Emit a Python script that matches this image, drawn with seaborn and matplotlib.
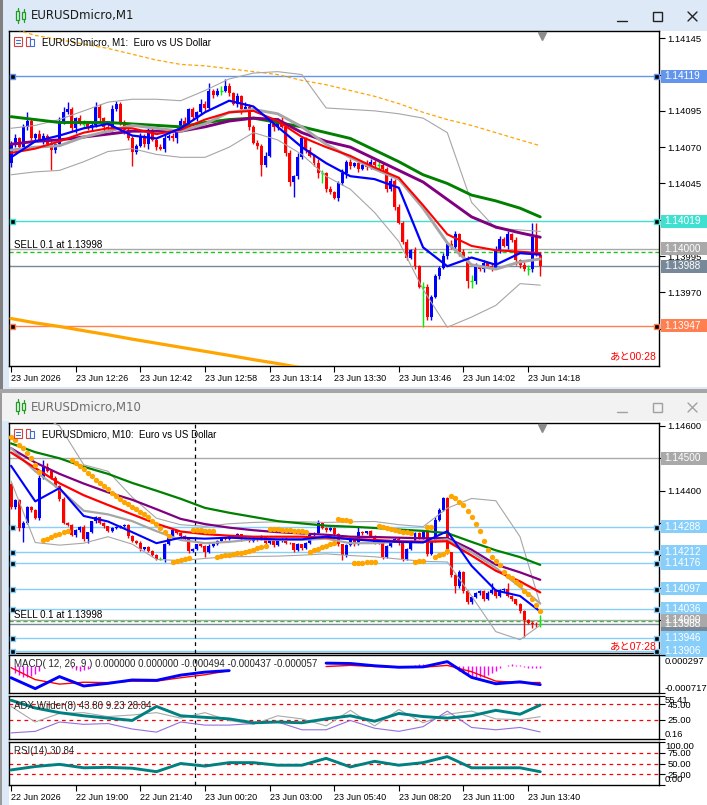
import numpy as np
import matplotlib
matplotlib.use("Agg")
import matplotlib.pyplot as plt
import matplotlib.transforms as mtrans
from matplotlib.patches import Rectangle
from matplotlib.lines import Line2D
import seaborn as sns

sns.set_theme(style="white")
plt.rcParams["font.family"] = ["Liberation Sans", "Noto Sans CJK JP", "DejaVu Sans"]

BASE = 1.13900  # all *_pt values are points (0.00001) above this price

# ---------------- M1 chart data ----------------
m1_first_open = 159
m1_close = [172, 176, 170, 184, 188, 176, 179, 175, 178, 172,
            168, 172, 188, 194, 196, 183, 190, 186, 186, 183,
            185, 198, 190, 184, 183, 196, 200, 187, 182, 176,
            167, 171, 177, 172, 182, 175, 170, 169, 176, 178,
            176, 182, 188, 185, 196, 191, 194, 200, 197, 209,
            206, 209, 209, 212, 207, 200, 205, 196, 198, 184,
            173, 171, 158, 164, 186, 184, 188, 184, 166, 146,
            150, 163, 176, 168, 164, 159, 152, 152, 141, 139,
            135, 145, 152, 160, 157, 159, 155, 158, 156, 160,
            158, 158, 155, 141, 147, 129, 118, 105, 94, 99,
            88, 74, 74, 53, 67, 81, 87, 95, 103, 101,
            110, 98, 94, 78, 78, 88, 86, 90, 88, 87,
            99, 107, 102, 110, 106, 92, 89, 86, 86, 108,
            96, 88]
m1_up = [2, 3, 1, 2, 6, 2, 1, 3, 2, 1,
         2, 1, 3, 4, 5, 2, 1, 2, 3, 1,
         2, 3, 2, 1, 2, 3, 2, 1, 2, 1,
         2, 1, 3, 2, 1, 2, 1, 2, 3, 1,
         2, 1, 2, 3, 1, 2, 1, 3, 2, 5,
         1, 2, 3, 5, 2, 1, 2, 1, 3, 2,
         1, 2, 1, 3, 2, 1, 2, 3, 1, 2,
         1, 3, 2, 1, 2, 1, 3, 2, 1, 2,
         1, 2, 3, 1, 2, 1, 2, 1, 3, 2,
         1, 3, 2, 1, 2, 1, 2, 1, 2, 1,
         2, 1, 3, 2, 1, 2, 1, 2, 1, 3,
         2, 1, 2, 1, 4, 2, 1, 2, 1, 2,
         3, 2, 1, 2, 1, 2, 1, 2, 3, 10,
         10, 2]
m1_dn = [3, 2, 1, 2, 2, 1, 2, 1, 3, 2,
         14, 2, 1, 2, 1, 2, 3, 1, 3, 1,
         2, 1, 2, 3, 1, 2, 1, 2, 3, 1,
         10, 2, 1, 2, 3, 1, 2, 1, 2, 1,
         2, 3, 1, 2, 1, 2, 3, 1, 2, 1,
         2, 1, 3, 1, 2, 1, 2, 3, 1, 2,
         1, 2, 8, 2, 1, 3, 2, 1, 2, 3,
         10, 2, 1, 2, 1, 2, 3, 7, 2, 1,
         1, 2, 1, 3, 2, 1, 2, 1, 2, 1,
         2, 3, 2, 2, 1, 2, 1, 2, 2, 1,
         2, 1, 28, 2, 2, 1, 2, 1, 2, 1,
         2, 3, 2, 5, 5, 2, 1, 2, 1, 2,
         1, 2, 1, 2, 1, 3, 2, 1, 4, 2,
         1, 7]

knot_bars = [0, 6, 12, 18, 24, 30, 36, 42, 48, 54, 60, 66,
             72, 78, 84, 90, 96, 102, 108, 114, 120, 126, 131]
m1_fast = [163, 174, 178, 183, 186, 178, 176, 183, 194, 202, 198, 184,
           170, 159, 150, 148, 142, 101, 88, 94, 89, 97, 96]
m1_mid = [166, 169, 174, 180, 183, 183, 179, 182, 189, 194, 195, 188,
          177, 170, 164, 156, 149, 130, 110, 102, 99, 98, 97]
m1_bb_mid = [168, 170, 171, 177, 181, 185, 183, 181, 186, 194, 196, 193,
             184, 172, 163, 155, 148, 128, 104, 89, 86, 91, 93]
m1_bb_up = [183, 185, 189, 195, 201, 203, 203, 202, 209, 217, 221, 222,
            220, 197, 196, 195, 193, 190, 180, 132, 114, 113, 112]
m1_bb_dn = [151, 153, 154, 160, 167, 169, 165, 163, 163, 170, 180, 175,
            165, 150, 141, 125, 105, 72, 46, 53, 61, 76, 75]
m1_slow = [172, 174, 175, 177, 179, 181, 181, 181, 184, 188, 190, 189,
           180, 174, 170, 162, 154, 146, 134, 122, 115, 111, 108]
m1_slower = [191, 189, 187, 187, 187, 186, 185, 184, 187, 189, 190, 187,
             184, 180, 176, 168, 160, 151, 145, 137, 133, 128, 122]
m1_long_dash = [252, 247, 244, 241, 238, 234, 230, 227, 226, 224, 222, 220,
                216, 213, 209, 205, 200, 194, 189, 185, 180, 175, 171]
m1_long_thick = [52, 49, 46.5, 43.6, 40.8, 37.8, 35, 32.2, 29.4, 26.6, 23.7, 21,
                 18, 15, 12, 9, 6, 3, 0, -3, -6, -9, -12]

m1_levels = [1.14119, 1.14019, 1.14000, 1.13988, 1.13947]
m1_level_text = ["1.14119", "1.14019", "1.14000", "1.13988", "1.13947"]
sell_price = 1.13998
m1_yticks = [1.13945, 1.13970, 1.13995, 1.14020, 1.14045, 1.14070, 1.14095, 1.14120, 1.14145]
m1_ytick_text = ["1.13945", "1.13970", "1.13995", "", "1.14045", "1.14070", "1.14095", "", "1.14145"]
m1_time_ticks = [0, 16, 32, 48, 64, 80, 96, 112, 128]
m1_time_labels = ["23 Jun 2026", "23 Jun 12:26", "23 Jun 12:42", "23 Jun 12:58", "23 Jun 13:14",
                  "23 Jun 13:30", "23 Jun 13:46", "23 Jun 14:02", "23 Jun 14:18"]

# ---------------- M10 chart data ----------------
m10_first_open = 520
m10_close = [450, 470, 385, 400, 450, 440, 415, 540, 572, 562,
             540, 515, 475, 400, 395, 362, 378, 388, 352, 372,
             405, 418, 400, 390, 375, 385, 388, 392, 394, 360,
             345, 340, 320, 325, 315, 303, 290, 290, 337, 355,
             378, 370, 360, 352, 315, 320, 335, 330, 312, 330,
             335, 345, 355, 352, 360, 358, 365, 350, 355, 345,
             355, 350, 358, 340, 350, 332, 345, 352, 340, 338,
             318, 335, 322, 340, 362, 370, 400, 385, 378, 385,
             365, 335, 300, 332, 352, 335, 372, 368, 375, 360,
             340, 345, 295, 330, 345, 352, 338, 290, 320, 345,
             368, 355, 376, 305, 345, 410, 440, 478, 310, 240,
             205, 250, 190, 155, 173, 183, 190, 165, 185, 193,
             175, 192, 196, 175, 165, 150, 128, 101, 93, 90,
             88, 88]
m10_up = [4, 5, 3, 6, 4, 3, 5, 10, 23, 12,
          3, 4, 2, 5, 3, 2, 4, 3, 5, 2,
          3, 4, 2, 3, 2, 3, 4, 2, 3, 2,
          3, 2, 4, 2, 3, 2, 3, 4, 3, 2,
          3, 2, 3, 4, 2, 3, 2, 3, 2, 4,
          3, 2, 3, 2, 3, 2, 4, 2, 3, 2,
          3, 2, 4, 2, 3, 2, 3, 2, 4, 3,
          2, 3, 2, 3, 4, 3, 10, 3, 2, 3,
          4, 3, 2, 3, 4, 3, 17, 3, 2, 3,
          2, 3, 4, 3, 2, 3, 4, 2, 3, 2,
          4, 3, 2, 3, 4, 10, 6, 4, 3, 2,
          3, 4, 3, 2, 3, 4, 3, 2, 4, 21,
          3, 4, 3, 18, 3, 2, 3, 4, 3, 5,
          4, 28]
m10_dn = [6, 5, 8, 42, 4, 5, 3, 4, 3, 4,
          5, 3, 6, 4, 5, 3, 4, 5, 6, 14,
          3, 4, 3, 5, 4, 3, 4, 3, 4, 5,
          4, 3, 5, 4, 3, 4, 5, 3, 9, 4,
          3, 4, 5, 3, 6, 4, 3, 4, 16, 3,
          4, 3, 4, 3, 4, 3, 4, 5, 3, 4,
          3, 4, 3, 5, 4, 6, 3, 4, 3, 4,
          6, 3, 5, 3, 4, 3, 4, 3, 4, 3,
          5, 6, 15, 4, 3, 5, 3, 4, 3, 4,
          5, 3, 6, 4, 3, 4, 5, 8, 4, 3,
          4, 5, 3, 6, 4, 3, 4, 3, 4, 5,
          22, 4, 6, 5, 4, 3, 5, 4, 3, 4,
          5, 3, 4, 3, 5, 4, 6, 52, 5, 15,
          10, 8]
m10_fast = [577, 467, 508, 422, 405, 372, 338, 355, 352, 355, 352, 350,
            350, 358, 350, 345, 342, 340, 375, 268, 192, 175, 127]
m10_mid = [618, 570, 523, 486, 456, 427, 398, 374, 366, 361, 358, 358,
           358, 355, 352, 348, 344, 342, 344, 300, 253, 220, 186]
m10_bb_mid = [631, 560, 505, 438, 427, 406, 375, 348, 338, 342, 350, 348,
              348, 352, 338, 338, 343, 343, 350, 310, 262, 203, 152]
m10_bb_up = [760, 740, 700, 580, 560, 480, 415, 395, 390, 398, 402, 404,
             404, 402, 404, 405, 395, 389, 446, 476, 469, 358, 150]
m10_bb_dn = [530, 340, 332, 338, 358, 335, 288, 284, 291, 296, 297, 298,
             301, 305, 300, 296, 289, 282, 280, 175, 65, 40, 85]
m10_slow = [631, 587, 552, 522, 495, 472, 443, 413, 397, 386, 378, 372,
            368, 364, 358, 357, 355, 353, 354, 318, 272, 248, 225]
m10_slower = [646, 619, 600, 574, 552, 524, 500, 475, 447, 432, 419, 406,
              399, 392, 389, 385, 380, 376, 369, 342, 316, 295, 271]
m10_sar = [667, 657, 641, 631, 615, 600, 580, 559,
           348, 352, 357, 362, 367, 372, 376,
           595, 585, 576, 566, 556, 544, 533, 525, 515, 504, 494, 484, 474,
           466, 458, 450, 443, 435, 427, 418, 408, 397, 384, 374, 360,
           281, 284, 287, 290, 293,
           380, 379, 378, 377, 376, 375,
           296, 298, 300, 302, 304, 307, 309, 312, 315, 318, 322, 326, 330,
           383, 382, 381, 380, 379, 378, 377, 376, 375, 374,
           312, 316, 320, 325, 330, 335, 340,
           412, 411, 410, 408,
           276, 277, 278, 279, 280, 281,
           391, 389, 386, 383, 380, 377, 374, 371, 368,
           280, 282, 284,
           389, 387,
           296, 300, 306, 315,
           484, 476, 466, 456, 438, 418, 398, 375, 345, 318, 296, 283,
           271, 250, 238, 230, 218, 209, 190, 180, 165, 148, 128]

m10_levels_blue = [1.14288, 1.14212, 1.14176, 1.14097, 1.14036, 1.13946, 1.13906]
m10_levels_blue_text = ["1.14288", "1.14212", "1.14176", "1.14097", "1.14036", "1.13946", "1.13906"]
m10_level_gray = 1.14500
m10_level_price = 1.14000
m10_level_bid = 1.13988
m10_yticks = [1.14000, 1.14100, 1.14200, 1.14300, 1.14400, 1.14500, 1.14600]
m10_ytick_text = ["", "", "1.14200", "1.14300", "1.14400", "", "1.14600"]
m10_day_bar = 46
m10_time_ticks = [0, 16, 32, 48, 64, 80, 96, 112, 128]
m10_time_labels = ["22 Jun 2026", "22 Jun 19:00", "22 Jun 21:40", "23 Jun 00:20", "23 Jun 03:00",
                   "23 Jun 05:40", "23 Jun 08:20", "23 Jun 11:00", "23 Jun 13:40"]

# indicators (M10), read at knot_bars
nan = np.nan
macd_main = [-0.00031, -0.00060, -0.00028, -0.00053, -0.00046, -0.00037, -0.00038, -0.00024,
             -0.00016, -0.00012, nan, nan, nan, 0.00008, 0.00007, 0.00001, -0.00003, -0.00002,
             0.00012, -0.00030, -0.00047, -0.00042, -0.000494]
macd_signal = [-0.00004, -0.00036, -0.00048, -0.00043, -0.00044, -0.00040, -0.00040, -0.00031,
               -0.00023, -0.00012, nan, nan, nan, -0.00001, 0.00002, -0.00001, -0.00003, -0.00003,
               0.00002, -0.00015, -0.00040, -0.00044, -0.000437]
macd_hist_bars = [1, 2, 3, 4, 5, 6, 7, 15, 16, 17, 18, 19, 100, 101, 102, 103,
                  110, 111, 112, 113, 114, 115, 116, 117, 118, 119, 120, 121,
                  123, 124, 125, 126, 127, 128, 129, 130, 131]
macd_hist = [-0.00018, -0.00024, -0.00028, -0.00030, -0.00026, -0.00020, -0.00012,
             -0.00006, -0.00010, -0.00013, -0.00011, -0.00007,
             0.00004, 0.00005, 0.00005, 0.00003,
             -0.00005, -0.00012, -0.00018, -0.00024, -0.00028, -0.00030, -0.00030, -0.00028,
             -0.00024, -0.00018, -0.00012, -0.00006,
             0.00004, 0.00005, 0.00004, 0.00002, -0.00002, -0.00004, -0.00005, -0.00006, -0.000057]
macd_range = (-0.000717, 0.000297)
adx_main = [50, 40, 34, 30, 27, 24, 42, 30, 28, 26, 21, 22, 21, 26, 30, 23, 33, 29, 27, 30, 37, 32, 43.8]
adx_minus = [42, 22, 33, 34, 29, 31, 34, 27, 34, 24, 19, 30, 26, 17, 37, 17, 38, 21, 32, 36, 26, 25, 28.84]
adx_plus = [8, 10, 22, 19, 20, 13, 9, 22, 18, 18, 20, 22, 12, 12, 24, 14, 10, 16, 36, 15, 12, 15, 9.23]
adx_range = (0.16, 55.41)
adx_levels = [25, 45]
rsi_vals = [35, 43, 48, 40, 41, 39, 31, 50, 44, 52, 52, 46, 46, 62, 42, 55, 46, 52, 66, 40, 40, 40, 30.84]
rsi_levels = [25, 50, 75]

# ---------------- figure ----------------
W, H = 707, 805
fig = plt.figure(figsize=(W / 100, H / 100), dpi=100)
fig.patch.set_facecolor("#dde9f6")
XLIM = (-0.5, 160.4)


def fig_rect(x0, y0, x1, y1, fc, ec="none", lw=0.8, z=-5):
    fig.add_artist(Rectangle((x0 / W, 1 - y1 / H), (x1 - x0) / W, (y1 - y0) / H,
                             transform=fig.transFigure, fc=fc, ec=ec, lw=lw, zorder=z))


def fig_line(xs, ys, color, lw=1.0, z=5):
    fig.add_artist(Line2D([x / W for x in xs], [1 - y / H for y in ys],
                          transform=fig.transFigure, color=color, lw=lw, zorder=z))


def fig_axes(x0, y0, x1, y1):
    return fig.add_axes([x0 / W, 1 - y1 / H, (x1 - x0) / W, (y1 - y0) / H])


# window chrome
fig_rect(0, 0, 3, 390, "#808080")
fig_rect(9, 31, 707, 387, "white")
fig_rect(0, 389, 707, 393, "#a5a5a5")
fig_rect(2, 393, 707, 421, "#f2f2f2")
fig_rect(0, 393, 2, 805, "#9a9a9a")
fig_rect(9, 421, 707, 805, "white")


def title_bar(y, text, tcol, bcol):
    fig_rect(16, y - 5, 19, y + 4, "none", ec="#1f9d1f", lw=0.9, z=5)
    fig_rect(22, y - 4, 25, y + 3, "none", ec="#1f9d1f", lw=0.9, z=5)
    fig_line([17.5, 17.5], [y - 8, y - 5], "#1f9d1f", 0.9)
    fig_line([17.5, 17.5], [y + 4, y + 7], "#1f9d1f", 0.9)
    fig_line([23.5, 23.5], [y - 7, y - 4], "#1f9d1f", 0.9)
    fig_line([23.5, 23.5], [y + 3, y + 6], "#1f9d1f", 0.9)
    fig.text(31 / W, 1 - y / H, text, fontsize=8.5, family="DejaVu Sans", va="center", color=tcol)
    fig_line([617, 627], [y + 5, y + 5], bcol, 1.0)
    fig_rect(653, y - 4, 662, y + 5, "none", ec=bcol, lw=1.0, z=5)
    fig_line([688, 697], [y - 4, y + 5], bcol, 1.0)
    fig_line([688, 697], [y + 5, y - 4], bcol, 1.0)


title_bar(16, "EURUSDmicro,M1", "#1a1a1a", "#222222")
title_bar(407, "EURUSDmicro,M10", "#6e6e6e", "#a0a0a0")


def pt(a):
    return BASE + np.asarray(a, dtype=float) * 1e-5


def line(ax, xs, vals, color, lw, dash=None, z=4):
    y = np.asarray(vals, dtype=float)
    xs = np.asarray(xs)
    ok = ~np.isnan(y)
    breaks = np.where(np.diff(ok.astype(int)) != 0)[0] + 1
    kw = {"linestyle": (0, dash)} if dash else {}
    for seg in np.split(np.arange(len(y)), breaks):
        if ok[seg[0]] and len(seg) > 1:
            sns.lineplot(x=xs[seg], y=y[seg], ax=ax, color=color, lw=lw, estimator=None,
                         sort=False, legend=False, zorder=z, **kw)


def candles(ax, first_open, close, up, dn):
    c = pt(close)
    o = np.r_[pt(first_open), c[:-1]]
    hi = np.maximum(o, c) + np.asarray(up) * 1e-5
    lo = np.minimum(o, c) - np.asarray(dn) * 1e-5
    x = np.arange(len(c))
    col = np.where(c > o, "#0000ff", np.where(c < o, "#ff0000", "#00ee00"))
    ax.vlines(x, lo, hi, colors=col, lw=1.0, zorder=3)
    body = c != o
    ax.bar(x[body], np.abs(c - o)[body], bottom=np.minimum(o, c)[body], width=0.74,
           color=col[body], lw=0, zorder=3)
    ax.hlines(c[~body], x[~body] - 0.37, x[~body] + 0.37, colors="#00ee00", lw=1.0, zorder=3)


def frame(ax, ylim, yticks, ylabels):
    ax.set_facecolor("white")
    ax.set_xlim(*XLIM)
    ax.set_ylim(*ylim)
    for s in ax.spines.values():
        s.set_color("black")
        s.set_linewidth(1.0)
    ax.yaxis.tick_right()
    ax.set_yticks(yticks)
    ax.set_yticklabels(ylabels)
    ax.tick_params(axis="y", right=True, left=False, direction="out", length=4, width=0.8,
                   color="black", labelsize=6.8, pad=2, labelcolor="black")
    ax.set_xticks([])
    ax.set_xlabel("")
    ax.set_ylabel("")


def time_axis(ax, ticks, labels):
    ax.set_xticks(ticks)
    ax.set_xticklabels(labels, ha="left")
    ax.tick_params(axis="x", bottom=True, direction="out", length=4, width=0.8,
                   color="black", labelsize=6.5, pad=2, labelcolor="black")


def level(ax, price, color, ends=False, dash=None, z=2):
    kw = {"linestyle": (0, dash)} if dash else {}
    ax.axhline(price, color=color, lw=1.0, zorder=z, **kw)
    if ends:
        tr = mtrans.blended_transform_factory(ax.transAxes, ax.transData)
        ax.plot([0.005, 0.995], [price, price], transform=tr, ls="none", marker="s", ms=3.6,
                mfc="black", mec=color, mew=1.0, clip_on=False, zorder=6)


def tag(ax, price, text, fc, h_px):
    tr = mtrans.blended_transform_factory(ax.transAxes, ax.transData)
    y0, y1 = ax.get_ylim()
    dpp = (y1 - y0) / h_px
    ax.add_patch(Rectangle((1.0031, price - 6.5 * dpp), 46 / 650, 13 * dpp, transform=tr,
                           fc=fc, ec="none", clip_on=False, zorder=8))
    ax.text(1.0031 + 3 / 650, price, text, transform=tr, color="white", fontsize=7.2,
            va="center", ha="left", clip_on=False, zorder=9)


def chart_icons(y):
    # two small toolbar icons left of the chart caption (figure pixels)
    fig_rect(14, y + 6, 22, y + 15, "white", ec="#d9413b", lw=0.8, z=10)
    fig_line([16, 20], [y + 9, y + 9], "#3b6fd9", 0.8, z=11)
    fig_line([16, 20], [y + 12, y + 12], "#3b6fd9", 0.8, z=11)
    fig_rect(26, y + 6, 30, y + 15, "white", ec="#d9413b", lw=0.8, z=10)
    fig_rect(30, y + 8, 34, y + 15, "white", ec="#3b6fd9", lw=0.8, z=10)


# ================= M1 main chart =================
ax1 = fig_axes(9, 31, 659, 366)
ylim1 = (float(pt(19.3)), float(pt(250.0)))
ax1.set_xlim(*XLIM)
ax1.set_ylim(*ylim1)
m1_colors = ["#6495ed", "#40e0d0", "#a9a9a9", "#778899", "#ff7f50"]
m1_ends = [True, True, False, False, True]
for p, c, e in zip(m1_levels, m1_colors, m1_ends):
    level(ax1, p, c, ends=e)
level(ax1, sell_price, "#22c322", dash=(3, 2), z=2.1)
candles(ax1, m1_first_open, m1_close, m1_up, m1_dn)
line(ax1, knot_bars, pt(m1_long_thick), "#ffa500", 2.3)
line(ax1, knot_bars, pt(m1_long_dash), "#ffa500", 0.9, dash=(3, 2))
line(ax1, knot_bars, pt(m1_bb_up), "#a6a6a6", 0.8)
line(ax1, knot_bars, pt(m1_bb_dn), "#a6a6a6", 0.8)
line(ax1, knot_bars, pt(m1_slower), "#008000", 2.1)
line(ax1, knot_bars, pt(m1_slow), "#800080", 2.1)
line(ax1, knot_bars, pt(m1_bb_mid), "#a6a6a6", 2.1)
line(ax1, knot_bars, pt(m1_mid), "#ff0000", 1.5)
line(ax1, knot_bars, pt(m1_fast), "#0000ff", 1.6)
frame(ax1, ylim1, m1_yticks, m1_ytick_text)
time_axis(ax1, m1_time_ticks, m1_time_labels)
for p, c, t in zip(m1_levels, m1_colors, m1_level_text):
    tag(ax1, p, t, c, 335)
ax1.text(33 / 650, 0.967, "EURUSDmicro, M1:  Euro vs US Dollar", transform=ax1.transAxes,
         fontsize=7, va="center", ha="left", color="black", zorder=9)
ax1.text(5 / 650, float(pt(102.5)), "SELL 0.1 at 1.13998", fontsize=7, va="center", ha="left",
         color="black", zorder=9, transform=mtrans.blended_transform_factory(ax1.transAxes, ax1.transData))
ax1.text(0.997, 0.027, "あと00:28", transform=ax1.transAxes, fontsize=7.5, color="#ff0000",
         ha="right", va="center", zorder=9)
ax1.plot([131.4], [0.986], transform=mtrans.blended_transform_factory(ax1.transData, ax1.transAxes),
         marker="v", ms=5.5, color="#8c8c8c", clip_on=False, zorder=9)
chart_icons(31)

# ================= M10 main chart =================
ax2 = fig_axes(9, 423, 659, 653)
ylim2 = (float(pt(-1)), float(pt(709)))
ax2.set_xlim(*XLIM)
ax2.set_ylim(*ylim2)
level(ax2, m10_level_gray, "#a9a9a9")
for p in m10_levels_blue:
    level(ax2, p, "#87cefa", ends=True)
level(ax2, sell_price, "#22c322", dash=(3, 2), z=1.9)
level(ax2, m10_level_bid, "#778899")
level(ax2, m10_level_price, "#a9a9a9")
ax2.axvline(m10_day_bar - 0.4, color="black", lw=0.9, linestyle=(0, (3, 3)), zorder=2)
candles(ax2, m10_first_open, m10_close, m10_up, m10_dn)
line(ax2, knot_bars, pt(m10_bb_up), "#a6a6a6", 0.8)
line(ax2, knot_bars, pt(m10_bb_dn), "#a6a6a6", 0.8)
line(ax2, knot_bars, pt(m10_slower), "#008000", 1.6)
line(ax2, knot_bars, pt(m10_slow), "#800080", 1.6)
line(ax2, knot_bars, pt(m10_bb_mid), "#a6a6a6", 1.6)
line(ax2, knot_bars, pt(m10_mid), "#ff0000", 1.6)
line(ax2, knot_bars, pt(m10_fast), "#0000ff", 1.5)
sns.scatterplot(x=np.arange(len(m10_sar)), y=pt(m10_sar), ax=ax2, color="#ffa500", s=15,
                linewidth=0, zorder=6, legend=False)
frame(ax2, ylim2, m10_yticks, m10_ytick_text)
tag(ax2, m10_level_gray, "1.14500", "#a9a9a9", 230)
for p, t in zip(m10_levels_blue, m10_levels_blue_text):
    tag(ax2, p, t, "#87cefa", 230)
tag(ax2, m10_level_bid, "1.13988", "#778899", 230)
tag(ax2, m10_level_price, "1.14000", "#a9a9a9", 230)
ax2.text(33 / 650, 0.952, "EURUSDmicro, M10:  Euro vs US Dollar", transform=ax2.transAxes,
         fontsize=7, va="center", ha="left", color="black", zorder=9)
ax2.text(5 / 650, float(pt(116)), "SELL 0.1 at 1.13998", fontsize=7, va="center", ha="left",
         color="black", zorder=9, transform=mtrans.blended_transform_factory(ax2.transAxes, ax2.transData))
ax2.text(0.997, 0.027, "あと07:28", transform=ax2.transAxes, fontsize=7.5, color="#ff0000",
         ha="right", va="center", zorder=9)
ax2.plot([131.4], [0.98], transform=mtrans.blended_transform_factory(ax2.transData, ax2.transAxes),
         marker="v", ms=5.5, color="#8c8c8c", clip_on=False, zorder=9)
chart_icons(423)


def side_text(ax, yfrac, text):
    ax.text(1 + 6 / 650, yfrac, text, transform=ax.transAxes, fontsize=6.8, va="center",
            ha="left", color="black", clip_on=False)


# ================= MACD =================
ax3 = fig_axes(9, 655, 659, 693)
ax3.set_xlim(*XLIM)
ax3.set_ylim(*macd_range)
ax3.axvline(m10_day_bar - 0.4, color="black", lw=0.9, linestyle=(0, (3, 3)), zorder=2)
ax3.vlines(macd_hist_bars, 0, macd_hist, colors="#ff00ff", lw=1.0, zorder=3)
line(ax3, knot_bars, macd_signal, "#ff0000", 1.0)
line(ax3, knot_bars, macd_main, "#0000ff", 2.1, z=5)
frame(ax3, macd_range, list(macd_range), ["", ""])
side_text(ax3, 0.84, "0.000297")
side_text(ax3, 0.13, "-0.000717")
ax3.text(5 / 650, 0.76, "MACD( 12, 26, 9 ) 0.000000 0.000000 -0.000494 -0.000437 -0.000057",
         transform=ax3.transAxes, fontsize=7, va="center", ha="left", zorder=9)

# ================= ADX =================
ax4 = fig_axes(9, 696, 659, 739)
ax4.set_xlim(*XLIM)
ax4.set_ylim(*adx_range)
ax4.axvline(m10_day_bar - 0.4, color="black", lw=0.9, linestyle=(0, (3, 3)), zorder=2)
for lv in adx_levels:
    ax4.axhline(lv, color="#ff0000", lw=0.9, linestyle=(0, (3, 3)), zorder=2)
line(ax4, knot_bars, adx_minus, "#a9a9a9", 0.8)
line(ax4, knot_bars, adx_plus, "#9370db", 0.8)
line(ax4, knot_bars, adx_main, "#008080", 2.1, z=5)
frame(ax4, adx_range, [adx_range[0], 25, 45, adx_range[1]], ["", "25.00", "45.00", ""])
side_text(ax4, 0.9, "55.41")
side_text(ax4, 0.095, "0.16")
ax4.text(5 / 650, 0.77, "ADX Wilder(8) 43.80 9.23 28.84", transform=ax4.transAxes,
         fontsize=7, va="center", ha="left", zorder=9)

# ================= RSI =================
ax5 = fig_axes(9, 742, 659, 785)
ax5.set_xlim(*XLIM)
ax5.set_ylim(0, 100)
ax5.axvline(m10_day_bar - 0.4, color="black", lw=0.9, linestyle=(0, (3, 3)), zorder=2)
for lv in rsi_levels:
    ax5.axhline(lv, color="#ff0000", lw=0.9, linestyle=(0, (3, 3)), zorder=2)
line(ax5, knot_bars, rsi_vals, "#008080", 2.1, z=5)
frame(ax5, (0, 100), [0, 25, 50, 75, 100], ["", "25.00", "50.00", "75.00", ""])
side_text(ax5, 0.9, "100.00")
side_text(ax5, 0.13, "0.00")
time_axis(ax5, m10_time_ticks, m10_time_labels)
ax5.text(5 / 650, 0.79, "RSI(14) 30.84", transform=ax5.transAxes, fontsize=7,
         va="center", ha="left", zorder=9)

fig.savefig("out.png", dpi=100, facecolor=fig.get_facecolor())
